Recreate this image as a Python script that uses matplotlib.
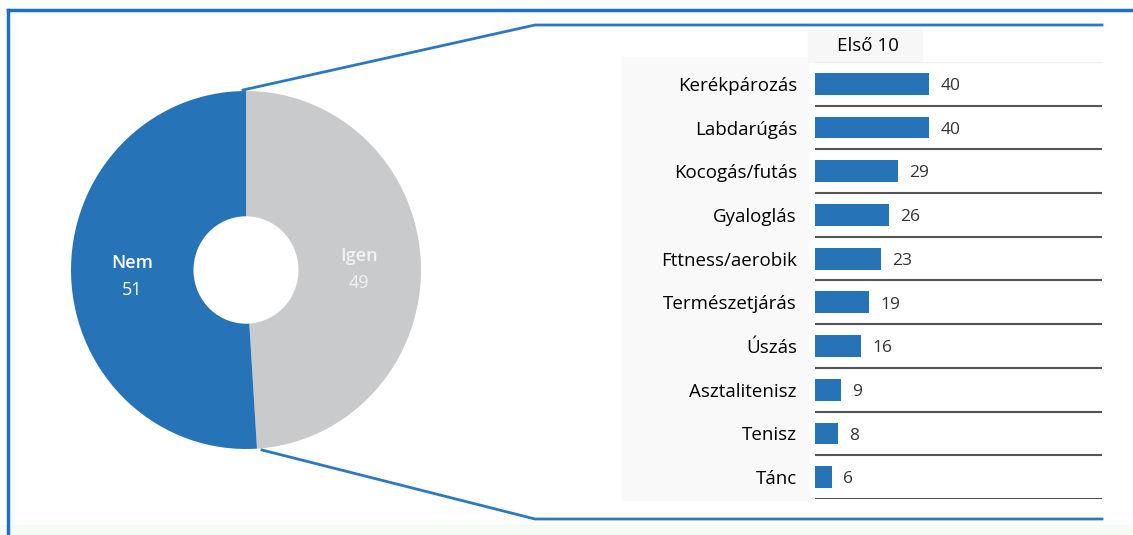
import numpy as np
import matplotlib.pyplot as plt
from matplotlib.lines import Line2D
from matplotlib.patches import Rectangle

# ---- data ----
pie_labels = ['Igen', 'Nem']
pie_values = [49, 51]

sports = ['Kerékpározás', 'Labdarúgás', 'Kocogás/futás', 'Gyaloglás',
          'Fttness/aerobik', 'Természetjárás', 'Úszás', 'Asztalitenisz',
          'Tenisz', 'Tánc']
sport_values = [40, 40, 29, 26, 23, 19, 16, 9, 8, 6]
bar_title = 'Első 10'

BLUE = '#2773b8'
GRAY = '#c8cacc'
FRAME = '#1f6fc5'

W, H = 1133, 535
plt.rcParams['font.family'] = ['Open Sans', 'DejaVu Sans']

fig = plt.figure(figsize=(W / 100, H / 100), dpi=100)


def box(x0, y0, x1, y1):
    # pixel box (top-left origin) -> figure fraction [l, b, w, h]
    return [x0 / W, 1 - y1 / H, (x1 - x0) / W, (y1 - y0) / H]


def px(x, y):
    return x / W, 1 - y / H


# background pieces
fig.patches.append(Rectangle(px(0, 535), 1, 10 / H, transform=fig.transFigure,
                             color='#f6fbf6', zorder=-1))
fig.patches.append(Rectangle(px(622, 500), 186 / W, 443 / H, transform=fig.transFigure,
                             color='#f9f9f9', zorder=-1))
fig.patches.append(Rectangle(px(808, 62), 114 / W, 32 / H, transform=fig.transFigure,
                             color='#f7f7f7', zorder=-1))

# outer frame (open to the right / bottom)
fig.lines.append(Line2D([px(8, 0)[0], 1], [px(0, 10)[1]] * 2, transform=fig.transFigure,
                        color=FRAME, lw=2.5))
fig.lines.append(Line2D([px(8, 0)[0]] * 2, [px(0, 10)[1], 0], transform=fig.transFigure,
                        color=FRAME, lw=2.5))

# zoom connector lines
xs, ys = zip(px(243, 90), px(535, 25), px(1102, 25))
fig.lines.append(Line2D(xs, ys, transform=fig.transFigure, color='#2e78c0', lw=2))
xs, ys = zip(px(262, 450), px(535, 519), px(1102, 519))
fig.lines.append(Line2D(xs, ys, transform=fig.transFigure, color='#2e78c0', lw=2))

# ---- donut ----
ax1 = fig.add_axes(box(71, 91, 421, 449))
ax1.pie(pie_values, colors=[GRAY, BLUE], startangle=90, counterclock=False,
        wedgeprops=dict(width=0.7, linewidth=0))
ax1.set_aspect('auto')
ax1.set_xlim(-1, 1)
ax1.set_ylim(-1, 1)
ax1.axis('off')

ax1.text(-0.65, 0.04, pie_labels[1], color='white', fontsize=13, ha='center', va='center',
         fontweight='semibold')
ax1.text(-0.65, -0.11, str(pie_values[1]), color='white', fontsize=13, ha='center', va='center')
ax1.text(0.645, 0.08, pie_labels[0], color='#f2f2f2', fontsize=13, ha='center', va='center',
         fontweight='semibold')
ax1.text(0.645, -0.07, str(pie_values[0]), color='#f2f2f2', fontsize=13, ha='center', va='center')

# ---- bars ----
ax2 = fig.add_axes(box(815, 62, 1102, 499))
ax2.set_facecolor('none')
y = np.arange(len(sports))
ax2.barh(y, sport_values, height=0.5, color=BLUE)
ax2.set_xlim(0, 287 / 2.85)
ax2.set_ylim(len(sports) - 0.5, -0.5)
for i, v in enumerate(sport_values):
    ax2.text(v + 4, i + 0.05, str(v), va='center', ha='left', fontsize=12.5, color='#333333')
for i in range(len(sports)):
    ax2.axhline(i + 0.5, color='#555555', lw=1.5)
ax2.axhline(-0.5, color='#eeeeee', lw=1)
for s in ax2.spines.values():
    s.set_visible(False)
ax2.set_xticks([])
ax2.set_yticks(y)
ax2.set_yticklabels(sports, fontsize=13.5, color='black')
ax2.tick_params(axis='y', length=0, pad=13)

fig.text(*px(868, 46), bar_title, ha='center', va='center', fontsize=13.5, color='black')

fig.savefig('out.png', dpi=100)
